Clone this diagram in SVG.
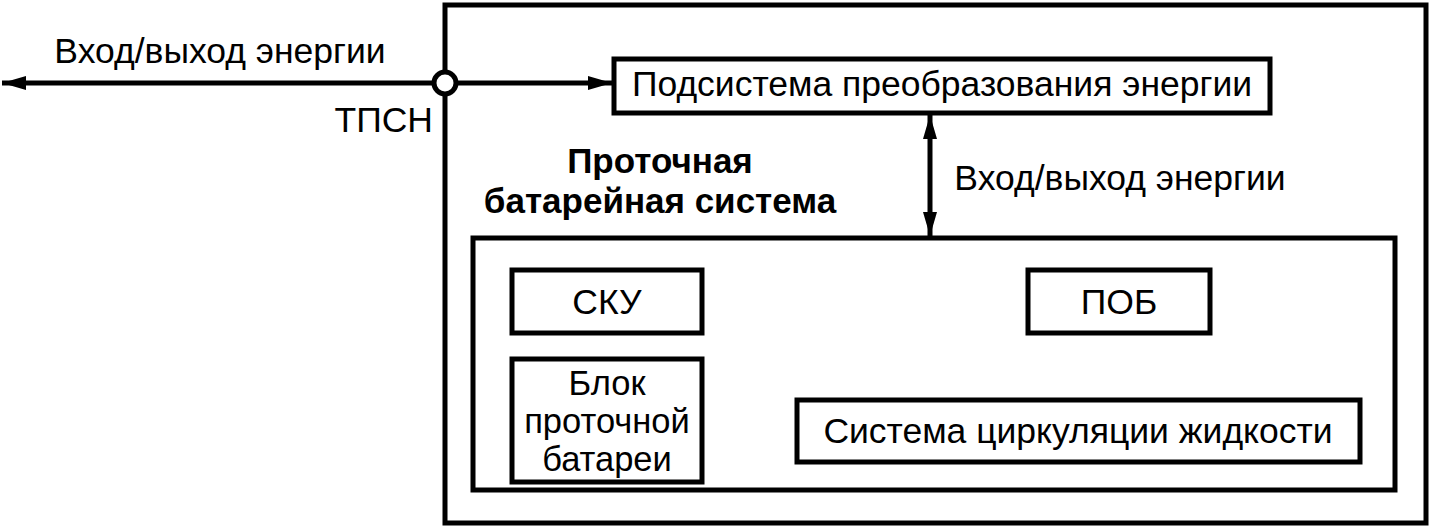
<svg xmlns="http://www.w3.org/2000/svg" width="1432" height="531" viewBox="0 0 1432 531">
<style>
.box{fill:none;stroke:#000;stroke-width:5}
.ln{fill:none;stroke:#000;stroke-width:5}
.t{font-family:"Liberation Sans",Arial,sans-serif;font-size:35.5px;fill:#000}
.s{font-size:34.5px}
.b{font-family:"Liberation Sans",Arial,sans-serif;font-size:35px;font-weight:bold;fill:#000}
.m{text-anchor:middle}
</style>
<defs>
<marker id="ah" viewBox="0 0 24 14" refX="24" refY="7" markerWidth="24" markerHeight="14" markerUnits="userSpaceOnUse" orient="auto-start-reverse">
<path d="M0,0 L24,7 L0,14 Z" fill="#000"/>
</marker>
</defs>
<rect width="1432" height="531" fill="#fff"/>
<g id="flow-battery-system">
<rect class="box" x="445" y="5" width="981" height="518"/>
<text class="b m" x="660" y="173">Проточная</text>
<text class="b m" x="660" y="213">батарейная система</text>
</g>
<g id="connectors">
<line class="ln" x1="2" y1="83" x2="434" y2="83" marker-start="url(#ah)"/>
<line class="ln" x1="456" y1="83" x2="612" y2="83" marker-end="url(#ah)"/>
<line class="ln" x1="930" y1="115" x2="930" y2="236" marker-start="url(#ah)" marker-end="url(#ah)"/>
<text class="t" x="220" y="63" text-anchor="middle">Вход/выход энергии</text>
<text class="t" x="1120" y="190" text-anchor="middle">Вход/выход энергии</text>
</g>
<g id="tpsn">
<circle cx="445" cy="83" r="11" fill="#fff" stroke="#000" stroke-width="5"/>
<text class="t" x="433" y="132" text-anchor="end">ТПСН</text>
</g>
<g id="pcs">
<rect class="box" x="614" y="59" width="656" height="54"/>
<text class="t m" x="942" y="96">Подсистема преобразования энергии</text>
</g>
<g id="inner">
<rect class="box" x="473" y="238" width="922" height="252"/>
</g>
<g id="sku">
<rect class="box" x="512" y="270" width="190" height="63"/>
<text class="t m" x="607" y="314">СКУ</text>
</g>
<g id="pob">
<rect class="box" x="1028" y="270" width="182" height="63"/>
<text class="t m" x="1119" y="314">ПОБ</text>
</g>
<g id="stack">
<rect class="box" x="512" y="359" width="190" height="123"/>
<text class="t s m" x="607" y="395">Блок</text>
<text class="t s m" x="607" y="433">проточной</text>
<text class="t s m" x="607" y="471">батареи</text>
</g>
<g id="circ">
<rect class="box" x="797" y="400" width="563" height="62"/>
<text class="t m" x="1078" y="443">Система циркуляции жидкости</text>
</g>
</svg>
